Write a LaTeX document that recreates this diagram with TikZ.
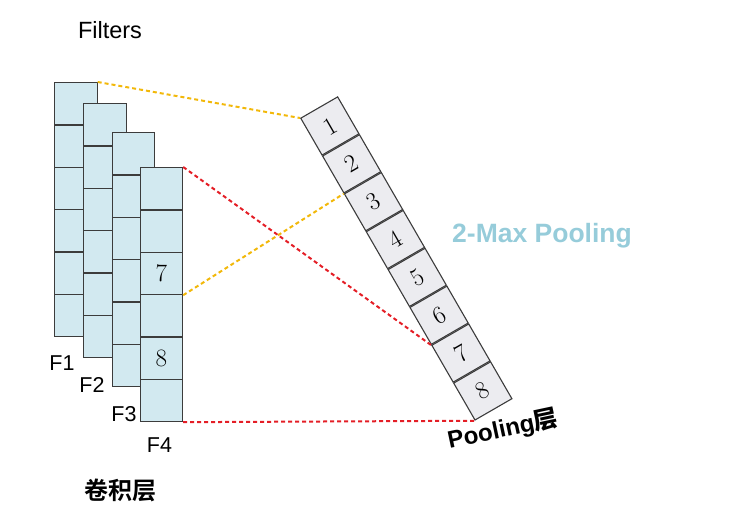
\documentclass[tikz,border=0pt]{standalone}
\usepackage{fontspec}
\setsansfont{Liberation Sans}
\newfontfamily\cjkfont{Noto Sans CJK SC}
\newfontfamily\cjkbold{Noto Sans CJK SC Bold}
\definecolor{cellblue}{RGB}{210,233,240}
\definecolor{cellgray}{RGB}{236,236,240}
\definecolor{edgegray}{RGB}{60,60,60}
\definecolor{dashyellow}{RGB}{242,184,10}
\definecolor{dashred}{RGB}{228,30,38}
\definecolor{titleblue}{RGB}{150,204,218}
\tikzset{
  fcell/.style={draw=edgegray, line width=1.2pt, fill=cellblue, inner sep=0pt,
    minimum width=42.5pt, minimum height=42.33pt, anchor=north west,
    font=\fontsize{25}{25}\selectfont},
  pcell/.style={draw=edgegray, line width=1.1pt, fill=cellgray, inner sep=0pt,
    minimum width=42.6pt, minimum height=42.6pt, rotate=30, anchor=north west,
    font=\fontsize{25}{25}\selectfont},
  ylink/.style={dashyellow, line width=2pt, dash pattern=on 4pt off 3pt},
  rlink/.style={dashred, line width=2pt, dash pattern=on 4pt off 3pt},
  flabel/.style={anchor=base, font=\sffamily\fontsize{21.5}{21.5}\selectfont, inner sep=0pt},
}
\begin{document}
\begin{tikzpicture}[x=1pt,y=-1pt]
\useasboundingbox (0,0) rectangle (749,529);
% filter columns
\foreach \c/\x/\y in {1/54/82, 2/83/103, 3/111.5/132, 4/139.5/167}{
  \foreach \r in {1,...,6}{
    \node[fcell] (f\c-\r) at (\x,{\y+(\r-1)*42.33}) {};
  }
}
\node[fcell] at (f4-3.north west) {7};
\node[fcell] at (f4-5.north west) {8};
% pooling strip
\node[pcell] (p1) at (300,118) {1};
\foreach \k [remember=\k as \prev (initially 1)] in {2,...,8}{
  \node[pcell] (p\k) at (p\prev.south west) {\k};
}
% links
\draw[ylink] (f1-1.north east) -- (p1.north west);
\draw[ylink] (f4-3.south east) -- (p3.north west);
\draw[rlink] (f4-1.north east) -- (p7.north west);
\draw[rlink] (f4-6.south east) -- (p8.south west);
% labels
\node[anchor=base, font=\sffamily\fontsize{23.5}{23.5}\selectfont, inner sep=0pt] (filters) at (110,39) {Filters};
\node[flabel] (l1) at (62,370) {F1};
\node[flabel] (l2) at (92,392) {F2};
\node[flabel] (l3) at (124,421) {F3};
\node[flabel] (l4) at (159.5,452) {F4};
\node[font=\cjkbold\fontsize{24}{24}\selectfont, inner sep=0pt] (conv) at (120,490) {卷积层};
\node[anchor=base, text=titleblue, font=\sffamily\bfseries\fontsize{26.5}{26.5}\selectfont, inner sep=0pt] (maxp) at (542,243) {2-Max Pooling};
\node[rotate=12, inner sep=0pt, font=\sffamily\bfseries\fontsize{24}{24}\selectfont] (plabel) at (503,430) {Pooling{\cjkbold 层}};
\end{tikzpicture}
\end{document}
